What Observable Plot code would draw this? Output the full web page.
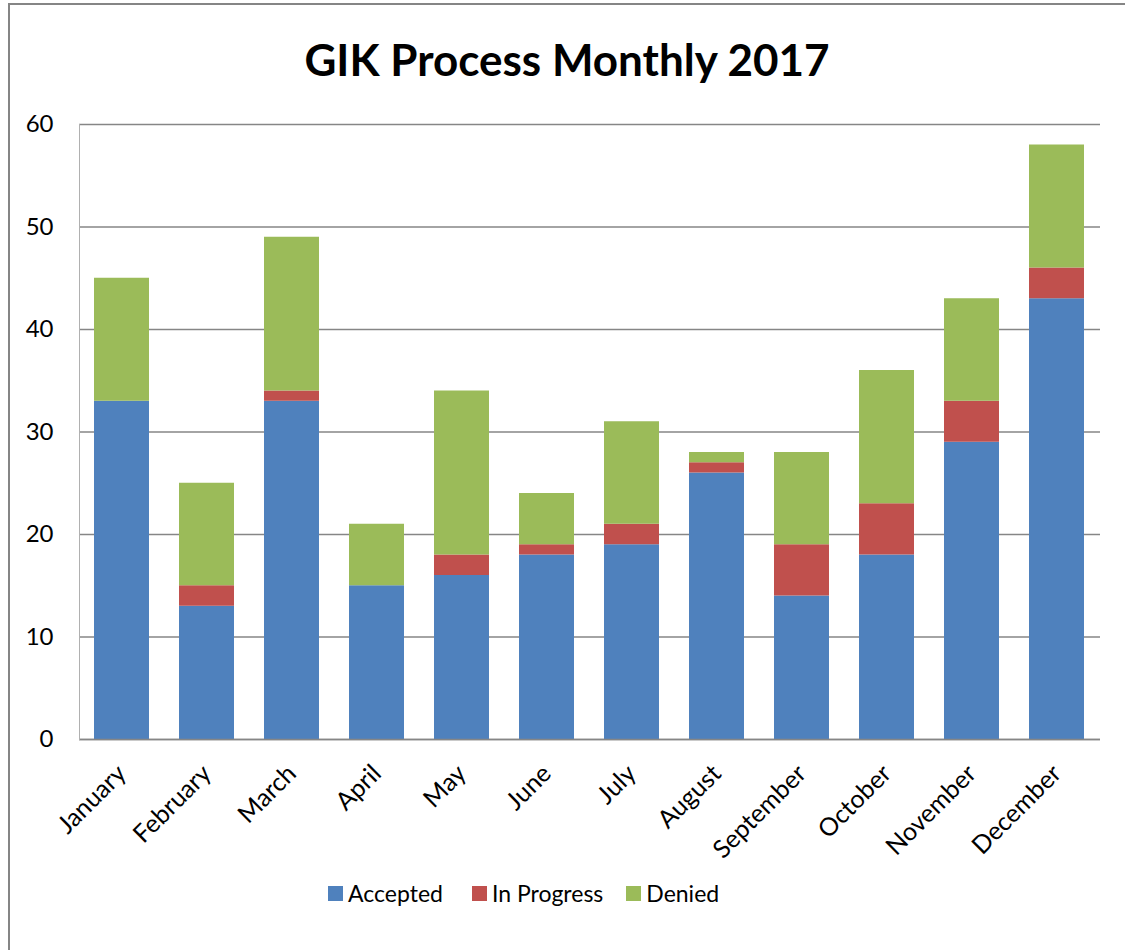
<!DOCTYPE html>
<html><head><meta charset="utf-8">
<script src="https://cdn.jsdelivr.net/npm/d3@7"></script>
<script src="https://cdn.jsdelivr.net/npm/@observablehq/plot@0.6"></script>
<style>
body{margin:0;background:#fff;font-family:Lato,"Open Sans",sans-serif;color:#000}
#wrap{position:relative;width:1125px;height:950px;overflow:hidden;background:#fff}
#border{position:absolute;left:8px;top:3px;width:1200px;height:1000px;border-top:2px solid #858585;border-left:2px solid #858585}
#title{position:absolute;top:31px;left:0;width:1134px;text-align:center;font-weight:bold;font-size:44px;line-height:56px}
#chart{position:absolute;left:0;top:100px}
#legend{position:absolute;top:879px;left:328px;display:flex;align-items:center;font-size:23px;line-height:28px}
.item{display:flex;align-items:center}
.sw{width:15px;height:15px;margin-right:5px}
</style></head>
<body><div id="wrap"><div id="border"></div><div id="title">GIK Process Monthly 2017</div><div id="chart"></div><div id="legend"></div></div>
<script>
const months = ["January","February","March","April","May","June","July","August","September","October","November","December"];
const series = ["Accepted","In Progress","Denied"];
const accepted   = [33,13,33,15,16,18,19,26,14,18,29,43];
const inProgress = [0, 2, 1, 0, 2, 1, 2, 1, 5, 5, 4, 3];
const denied     = [12,10,15,6,16, 5,10, 1, 9,13,10,12];
const colors = ["#4F81BD","#C0504D","#9BBB59"];
const yTicks = [0,10,20,30,40,50,60];

const values = [accepted, inProgress, denied];
const data = [];
months.forEach((m,i)=>series.forEach((s,j)=>data.push({month:m, series:s, value:values[j][i]})));

const chart = Plot.plot({
  width:1125, height:780,
  marginLeft:79, marginRight:25, marginTop:24, marginBottom:141,
  x:{domain:months, paddingInner:0.35, paddingOuter:0.175, label:null},
  y:{domain:[0,60], label:null},
  color:{domain:series, range:colors},
  style:{fontFamily:"Lato, 'Open Sans', sans-serif", fontSize:"24px", color:"#000", background:"transparent"},
  marks:[
    Plot.gridY(yTicks,{stroke:"#868686", strokeOpacity:1, strokeWidth:1.5}),
    Plot.barY(data,{x:"month", y:"value", fill:"series"}),
    Plot.ruleY([0],{stroke:"#868686", strokeWidth:1.5}),
    Plot.frame({anchor:"left", stroke:"#b0b0b0"}),
    Plot.axisY(yTicks,{tickSize:0, tickPadding:26, fontSize:24, label:null}),
    Plot.axisX({tickSize:0, tickRotate:-45, tickPadding:30, fontSize:25, label:null})
  ]
});
document.getElementById("chart").appendChild(chart);

const legend = document.getElementById("legend");
const gaps = [29, 23, 0];
series.forEach((s,i)=>{
  const it = document.createElement("div");
  it.className="item";
  it.style.marginRight = gaps[i]+"px";
  it.innerHTML = `<div class="sw" style="background:${colors[i]}"></div><span>${s}</span>`;
  legend.appendChild(it);
});
</script>
</body></html>
